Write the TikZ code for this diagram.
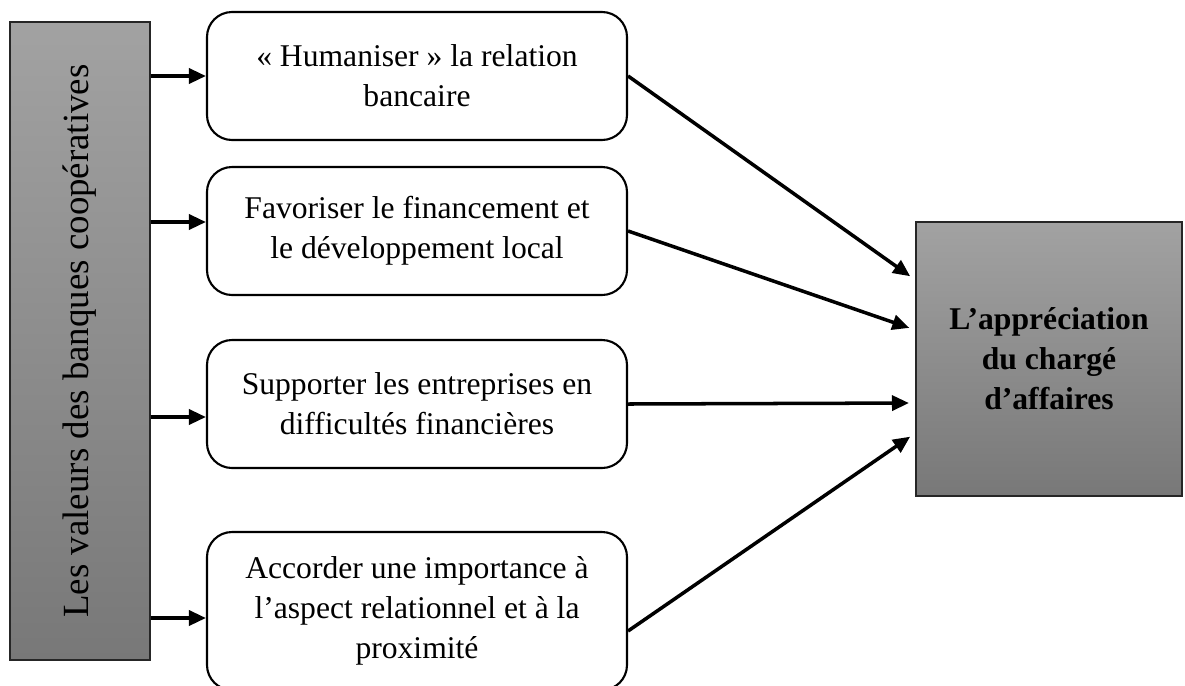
\documentclass[tikz,border=0pt]{standalone}
\usepackage{fontspec}
\setmainfont{Liberation Serif}
\usepackage{tikz}
\usetikzlibrary{positioning, arrows.meta}
\definecolor{boxgreytop}{RGB}{162, 162, 162}
\definecolor{boxgreybottom}{RGB}{120, 120, 120}

\begin{document}
\begin{tikzpicture}[
  every node/.style={font=\fontsize{18}{22.7}\selectfont},
  valuebox/.style={rectangle, draw, rounded corners=0.5cm, line width=1.2pt, minimum height=2.56cm, minimum width=8.4cm, align=center, fill=white},
  greybox/.style={rectangle, draw=black!85, line width=0.6pt, top color=boxgreytop, bottom color=boxgreybottom, align=center},
  arrow/.style={-{Triangle[length=0.34cm, width=0.3cm]}, line width=2pt}
]
  \useasboundingbox (0,0) rectangle (23.7,-13.7);

  % Left column: cooperative values
  \node[greybox, minimum width=2.8cm, minimum height=12.76cm] (values) at (1.6,-6.82) {};
  \node[rotate=90, font=\fontsize{21}{25}\selectfont] (valueslabel) at (values.center) {Les valeurs des banques coopératives};

  % Middle column
  \node[valuebox] (humanise) at (8.34,-1.52) {«~Humaniser~» la relation \\ bancaire};
  \node[valuebox] (funding) at (8.34,-4.62) {Favoriser le financement et \\ le développement local};
  \node[valuebox] (support) at (8.34,-8.08) {Supporter les entreprises en \\ difficultés financières};
  \node[valuebox, minimum height=3.16cm] (proximity) at (8.34,-12.22) {Accorder une importance à \\ l’aspect relationnel et à la \\ proximité};

  % Right: outcome
  \node[greybox, minimum width=5.32cm, minimum height=5.48cm, font=\fontsize{18}{22.7}\selectfont\bfseries] (appraisal) at (20.98,-7.18) {L’appréciation \\ du chargé \\ d’affaires};

  % Arrows from values
  \draw[arrow] (values.east |- humanise.west) -- (humanise.west);
  \draw[arrow] ([yshift=0.18cm] values.east |- funding.west) -- ([yshift=0.18cm] funding.west);
  \draw[arrow] ([yshift=-0.26cm] values.east |- support.west) -- ([yshift=-0.26cm] support.west);
  \draw[arrow] ([yshift=-0.14cm] values.east |- proximity.west) -- ([yshift=-0.14cm] proximity.west);

  % Arrows to appraisal
  \draw[arrow, shorten >=0.13cm] (humanise.east) -- ([yshift=1.58cm] appraisal.west);
  \draw[arrow, shorten >=0.13cm] (funding.east) -- ([yshift=0.58cm] appraisal.west);
  \draw[arrow, shorten >=0.13cm] (support.east) -- ([yshift=-0.88cm] appraisal.west);
  \draw[arrow, shorten >=0.13cm] ([yshift=-0.4cm] proximity.east) -- ([yshift=-1.48cm] appraisal.west);

\end{tikzpicture}
\end{document}
